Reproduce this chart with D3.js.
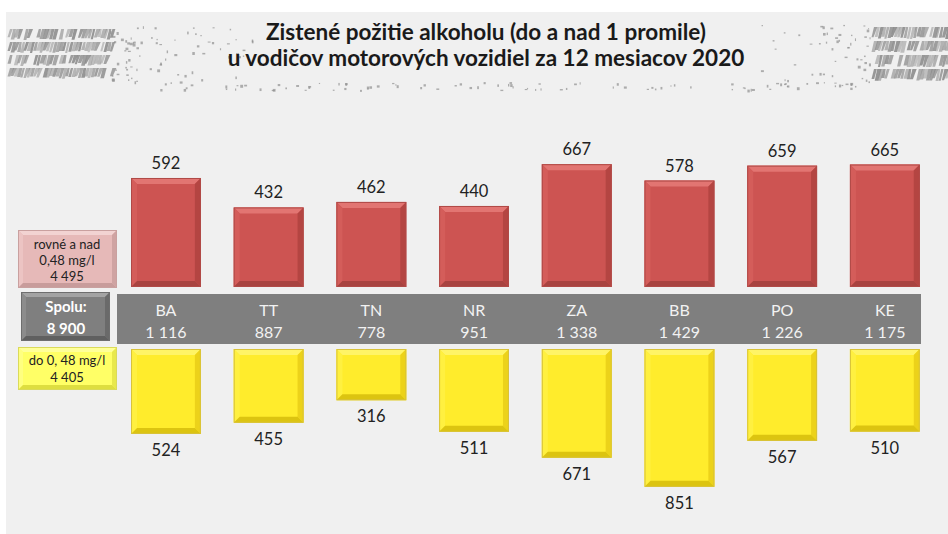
<!DOCTYPE html>
<html>
<head lang="sk">
    <meta charset="UTF-8">
    <script src="https://cdn.jsdelivr.net/npm/d3@7"></script>
    <style>
        body { margin: 0; background: #ffffff; }
        svg { display: block; }
        text { font-family: Lato, "Open Sans", sans-serif; }
    </style>
</head>
<body>
<svg width="948" height="534"></svg>
<script>
    // data
    var regions = ['BA', 'TT', 'TN', 'NR', 'ZA', 'BB', 'PO', 'KE'];
    var over048 = [592, 432, 462, 440, 667, 578, 659, 665];
    var under048 = [524, 455, 316, 511, 671, 851, 567, 510];
    var totals = [1116, 887, 778, 951, 1338, 1429, 1226, 1175];
    var summaryLabels = ['rovné a nad', '0,48 mg/l', 'Spolu:', 'do 0, 48 mg/l'];
    var summaryValues = [4495, 8900, 4405];
    var titleLines = ['Zistené požitie alkoholu (do a nad 1 promile)',
        'u vodičov motorových vozidiel za 12 mesiacov 2020'];

    var fmt = d3.formatLocale({decimal: ',', thousands: '\u00a0', grouping: [3], currency: ['', '']}).format(',d');

    var svg = d3.select('svg');
    var bevel = 6;

    var colors = {
        RED: {face: '#cd5452', top: '#e27572', left: '#d45d5a', right: '#b44542', bottom: '#a84340', edge: '#b04a47'},
        YELLOW: {face: '#ffec2c', top: '#fff466', left: '#fff040', right: '#ecd21a', bottom: '#dcc410', edge: '#d8c23a'},
        PINK: {face: '#e6b9b8', top: '#f2d3d2', left: '#ecc4c3', right: '#cfa3a2', bottom: '#c89c9b', edge: '#c9a09f'},
        GREY: {face: '#7f7f7f', top: '#a3a3a3', left: '#8c8c8c', right: '#6a6a6a', bottom: '#606060', edge: '#6e6e6e'},
        LEMON: {face: '#ffff66', top: '#ffff99', left: '#ffff80', right: '#e8e84c', bottom: '#dede40', edge: '#dada5a'}
    };

    // slide background
    svg.append('rect').attr('x', 6).attr('y', 12).attr('width', 942).attr('height', 522).attr('fill', '#f0f0f0');

    // tyre tracks (decoration only)
    var seed = 11;
    function rnd() { seed = (seed * 9301 + 49297) % 233280; return seed / 233280; }
    function tread(g, x0, x1, y0, y1) {
        var rowH = (y1 - y0) / 4;
        for (var row = 0; row < 4; row++) {
            var ry = y0 + row * rowH;
            for (var xx = x0; xx < x1; xx += 3.2) {
                if (rnd() < 0.12) continue;
                var h = rowH - 2 - rnd() * 3;
                g.append('polygon')
                    .attr('points', [[xx + 2, ry], [xx + 2 + 2 + rnd() * 2.5, ry], [xx + 1.5 + rnd() * 2, ry + h], [xx - 0.5, ry + h]]
                        .map(function (q) { return q.join(','); }).join(' '))
                    .attr('fill', '#8a8a8a')
                    .attr('opacity', 0.45 + rnd() * 0.45);
            }
        }
    }
    function specks(g, x0, x1, y0, y1, n) {
        for (var i = 0; i < n; i++) {
            g.append('rect').attr('x', x0 + rnd() * (x1 - x0)).attr('y', y0 + rnd() * (y1 - y0))
                .attr('width', 1 + rnd() * 2).attr('height', 1 + rnd() * 2).attr('fill', '#8f8f8f').attr('opacity', 0.7);
        }
    }
    var deco = svg.append('g');
    tread(deco, 8, 112, 29, 81);
    specks(deco, 110, 160, 26, 84, 45);
    specks(deco, 160, 260, 26, 88, 35);
    specks(deco, 160, 860, 82, 90, 90);
    tread(deco, 872, 948, 27, 83);
    specks(deco, 820, 872, 24, 86, 40);
    specks(deco, 760, 820, 24, 86, 15);

    // title
    svg.selectAll('.title')
        .data(titleLines)
        .enter()
        .append('text')
        .attr('x', 486)
        .attr('y', function (d, i) { return 40 + i * 26; })
        .attr('text-anchor', 'middle')
        .attr('font-size', 22.5)
        .attr('font-weight', 'bold')
        .attr('fill', '#1a1a1a')
        .text(function (d) { return d; });

    // scales
    var x = d3.scaleBand().domain(regions).range([114.6, 936.2]).paddingInner(0.32).paddingOuter(0.16);
    var yRed = d3.scaleLinear().domain([0, 700]).range([287, 287 - 128.9]);
    var yYellow = d3.scaleLinear().domain([0, 900]).range([349, 349 + 145.8]);

    function bevelBox(g, x0, y0, x1, y1, c, b) {
        g.append('rect').attr('x', x0).attr('y', y0).attr('width', x1 - x0).attr('height', y1 - y0).attr('fill', c.face);
        var polys = [
            [[x0, y0], [x1, y0], [x1 - b, y0 + b], [x0 + b, y0 + b], c.top],
            [[x0, y0], [x0 + b, y0 + b], [x0 + b, y1 - b], [x0, y1], c.left],
            [[x1, y0], [x1, y1], [x1 - b, y1 - b], [x1 - b, y0 + b], c.right],
            [[x0, y1], [x1, y1], [x1 - b, y1 - b], [x0 + b, y1 - b], c.bottom]
        ];
        polys.forEach(function (p) {
            g.append('polygon').attr('points', p.slice(0, 4).map(function (q) { return q.join(','); }).join(' ')).attr('fill', p[4]);
        });
        g.append('rect').attr('x', x0 + 0.5).attr('y', y0 + 0.5).attr('width', x1 - x0 - 1).attr('height', y1 - y0 - 1)
            .attr('fill', 'none').attr('stroke', c.edge).attr('stroke-width', 1);
    }

    // red bars (rovné a nad 0,48 mg/l)
    var redG = svg.append('g');
    regions.forEach(function (r, i) {
        bevelBox(redG, x(r), yRed(over048[i]), x(r) + x.bandwidth(), yRed(0), colors.RED, bevel);
    });
    svg.selectAll('.redlbl')
        .data(over048)
        .enter()
        .append('text')
        .attr('x', function (d, i) { return x(regions[i]) + x.bandwidth() / 2; })
        .attr('y', function (d) { return yRed(d) - 9; })
        .attr('text-anchor', 'middle')
        .attr('font-size', 16.5)
        .attr('fill', '#222')
        .text(function (d) { return fmt(d); });

    // yellow bars (do 0,48 mg/l)
    var yelG = svg.append('g');
    regions.forEach(function (r, i) {
        bevelBox(yelG, x(r), yYellow(0), x(r) + x.bandwidth(), yYellow(under048[i]), colors.YELLOW, bevel);
    });
    svg.selectAll('.yellbl')
        .data(under048)
        .enter()
        .append('text')
        .attr('x', function (d, i) { return x(regions[i]) + x.bandwidth() / 2; })
        .attr('y', function (d) { return yYellow(d) + 22; })
        .attr('text-anchor', 'middle')
        .attr('font-size', 16.5)
        .attr('fill', '#222')
        .text(function (d) { return fmt(d); });

    // grey band with regions and totals
    svg.append('rect').attr('x', 117).attr('y', 294).attr('width', 804).attr('height', 50).attr('fill', '#7f7f7f');
    svg.selectAll('.reg')
        .data(regions)
        .enter()
        .append('text')
        .attr('x', function (d) { return x(d) + x.bandwidth() / 2; })
        .attr('y', 315.5)
        .attr('text-anchor', 'middle')
        .attr('font-size', 16)
        .attr('fill', '#f2f2f2')
        .text(function (d) { return d; });
    svg.selectAll('.tot')
        .data(totals)
        .enter()
        .append('text')
        .attr('x', function (d, i) { return x(regions[i]) + x.bandwidth() / 2; })
        .attr('y', 337.5)
        .attr('text-anchor', 'middle')
        .attr('font-size', 16)
        .attr('fill', '#f2f2f2')
        .text(function (d) { return fmt(d); });

    // summary boxes on the left
    var sumG = svg.append('g');
    bevelBox(sumG, 18, 230, 117, 288, colors.PINK, 5);
    bevelBox(sumG, 21, 292, 110, 341, colors.GREY, 5);
    bevelBox(sumG, 18, 347, 117, 390, colors.LEMON, 5);
    var sumText = [
        {t: summaryLabels[0], x: 67, y: 249, c: '#222', w: 'normal'},
        {t: summaryLabels[1], x: 67, y: 265, c: '#222', w: 'normal'},
        {t: fmt(summaryValues[0]), x: 67, y: 281, c: '#222', w: 'normal'},
        {t: summaryLabels[2], x: 66, y: 312, c: '#ffffff', w: 'bold'},
        {t: fmt(summaryValues[1]), x: 66, y: 334, c: '#ffffff', w: 'bold'},
        {t: summaryLabels[3], x: 67, y: 365, c: '#222', w: 'normal'},
        {t: fmt(summaryValues[2]), x: 67, y: 382, c: '#222', w: 'normal'}
    ];
    sumG.selectAll('.st')
        .data(sumText)
        .enter()
        .append('text')
        .attr('x', function (d) { return d.x; })
        .attr('y', function (d) { return d.y; })
        .attr('text-anchor', 'middle')
        .attr('font-size', function (d) { return d.w === 'bold' ? 15 : 13; })
        .attr('font-weight', function (d) { return d.w; })
        .attr('fill', function (d) { return d.c; })
        .text(function (d) { return d.t; });
</script>
</body>
</html>
